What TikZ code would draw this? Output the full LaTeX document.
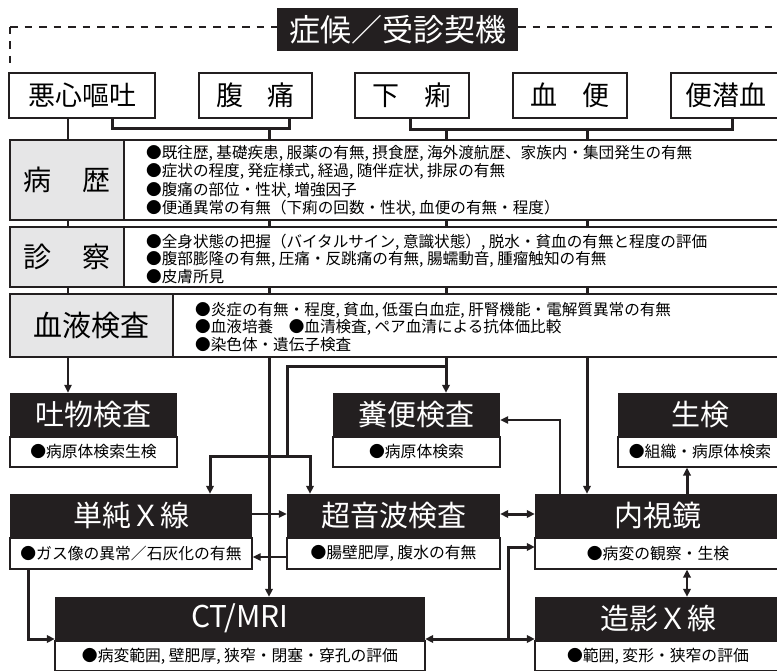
\documentclass[tikz,border=0pt]{standalone}
\usepackage{fontspec}
\setmainfont{Noto Sans CJK JP}
\usetikzlibrary{arrows.meta}
\pgfdeclarelayer{bg}
\pgfsetlayers{bg,main}
\definecolor{ink}{HTML}{231F20}
\definecolor{lgray}{HTML}{E6E6E7}
\newcommand\myfs[1]{\fontsize{#1}{#1}\selectfont}
\begin{document}
\begin{tikzpicture}[x=1pt,y=-1pt,
  sym/.style={draw=ink, line width=2.3pt, fill=white, minimum height=45pt, inner sep=0pt, font=\myfs{27}},
  lab/.style={draw=ink, line width=2.5pt, fill=lgray, inner sep=0pt, font=\myfs{28}},
  outerbox/.style={draw=ink, line width=2.7pt, fill=white, inner sep=0pt},
  txt/.style={anchor=west, inner sep=0pt, font=\myfs{15.6}},
  hdr/.style={fill=ink, text=white, minimum height=43pt, inner sep=0pt, font=\myfs{29}},
  subbox/.style={draw=ink, line width=1.4pt, fill=white, inner sep=0pt, font=\myfs{15.8}, anchor=north},
  thk/.style={draw=ink, line width=3pt},
  thn/.style={draw=ink, line width=1.2pt},
  arr/.style={-{Triangle[length=8pt,width=7.5pt]}},
  darr/.style={{Triangle[length=8pt,width=7.5pt]}-{Triangle[length=8pt,width=7.5pt]}}
]
\useasboundingbox (0,0) rectangle (777,671);
\clip (0,0) rectangle (777,671);

% title
\node[hdr, minimum width=241pt, minimum height=43pt, font=\myfs{31}] (title) at (397.5,29.5) {症候／受診契機};
\coordinate (dl) at (10,27);
\coordinate (dv) at (10,67);
\coordinate (dr) at (781,27);
\draw[ink, line width=2.4pt, dash pattern=on 7.5pt off 7pt] (dl) -- (dl -| title.west);
\draw[ink, line width=2.4pt, dash pattern=on 7.5pt off 7pt] (dl) -- (dv);
\draw[ink, line width=2.4pt, dash pattern=on 7.5pt off 7pt] (title.east |- dl) -- (dr);

% symptoms
\node[sym, minimum width=146pt] (s1) at (82,95.5) {悪心嘔吐};
\node[sym, minimum width=113pt] (s2) at (255.5,95.5) {腹\hspace{0.9em}痛};
\node[sym, minimum width=114pt] (s3) at (412,95.5) {下\hspace{0.9em}痢};
\node[sym, minimum width=114pt] (s4) at (570,95.5) {血\hspace{0.9em}便};
\node[sym, minimum width=110pt] (s5) at (726,95.5) {便潜血};

% history
\node[outerbox, minimum width=771pt, minimum height=80pt] (hist) at (395.5,180) {};
\node[lab, minimum width=114pt, minimum height=80pt] (histL) at (67,180) {病\hspace{1.1em}歴};
\node[txt] (h1) at (146,153) {●既往歴, 基礎疾患, 服薬の有無, 摂食歴, 海外渡航歴、家族内・集団発生の有無};
\node[txt] (h2) at (146,171.5) {●症状の程度, 発症様式, 経過, 随伴症状, 排尿の有無};
\node[txt] (h3) at (146,190) {●腹痛の部位・性状, 増強因子};
\node[txt] (h4) at (146,208.5) {●便通異常の有無（下痢の回数・性状, 血便の有無・程度）};

% exam
\node[outerbox, minimum width=771pt, minimum height=60pt] (exam) at (395.5,257) {};
\node[lab, minimum width=114pt, minimum height=60pt] (examL) at (67,257) {診\hspace{1.1em}察};
\node[txt] (e1t) at (146,242) {●全身状態の把握（バイタルサイン, 意識状態）, 脱水・貧血の有無と程度の評価};
\node[txt] (e2t) at (146,259) {●腹部膨隆の有無, 圧痛・反跳痛の有無, 腸蠕動音, 腫瘤触知の有無};
\node[txt] (e3t) at (146,276.5) {●皮膚所見};

% blood
\node[outerbox, minimum width=771pt, minimum height=63pt] (blood) at (395.5,325.5) {};
\node[lab, minimum width=163pt, minimum height=63pt, font=\myfs{29}] (bloodL) at (91.5,325.5) {血液検査};
\node[txt] (b1t) at (195,310) {●炎症の有無・程度, 貧血, 低蛋白血症, 肝腎機能・電解質異常の有無};
\node[txt] (b2t) at (195,327.5) {●血液培養\hspace{1em}●血清検査, ペア血清による抗体価比較};
\node[txt] (b3t) at (195,345) {●染色体・遺伝子検査};

% lower boxes
\node[hdr, minimum width=167pt] (tb) at (93.5,414.5) {吐物検査};
\node[subbox, minimum width=167pt, minimum height=30pt] (tbs) at (tb.south) {●病原体検索生検};
\node[hdr, minimum width=167pt] (fb) at (416.5,414.5) {糞便検査};
\node[subbox, minimum width=167pt, minimum height=30pt] (fbs) at (fb.south) {●病原体検索};
\node[hdr, minimum width=164pt] (bx) at (700,414.5) {生検};
\node[subbox, minimum width=164pt, minimum height=30pt] (bxs) at (bx.south) {●組織・病原体検索};

\node[hdr, minimum width=242pt] (xr) at (131,515.5) {単純Ｘ線};
\node[subbox, minimum width=242pt, minimum height=31pt] (xrs) at (xr.south) {●ガス像の異常／石灰化の有無};
\node[hdr, minimum width=213pt] (us) at (393.5,515.5) {超音波検査};
\node[subbox, minimum width=213pt, minimum height=31pt] (uss) at (us.south) {●腸壁肥厚, 腹水の有無};
\node[hdr, minimum width=246pt] (en) at (658,515.5) {内視鏡};
\node[subbox, minimum width=246pt, minimum height=31pt] (ens) at (en.south) {●病変の観察・生検};

\node[hdr, minimum width=370pt, font=\myfs{30}] (ct) at (240,618.5) {CT/MRI};
\node[subbox, minimum width=370pt, minimum height=30pt] (cts) at (ct.south) {●病変範囲, 壁肥厚, 狭窄・閉塞・穿孔の評価};
\node[hdr, minimum width=246pt] (zx) at (658,618.5) {造影Ｘ線};
\node[subbox, minimum width=246pt, minimum height=30pt] (zxs) at (zx.south) {●範囲, 変形・狭窄の評価};

\begin{pgfonlayer}{bg}
% bracket 1
\coordinate (b1l) at (112,129);
\coordinate (b1r) at (289,129);
\coordinate (b1m) at (269,129);
\draw[thk] (s1.south -| b1l) -- (b1l) -- (b1r) -- (s2.south -| b1r);
\draw[thk,arr] (b1m) -- (ct.north -| b1m);
% bracket 2
\coordinate (b2l) at (410,130);
\coordinate (b2r) at (732,130);
\coordinate (b2a) at (446,130);
\coordinate (b2b) at (587,130);
\draw[thk] (s3.south -| b2l) -- (b2l) -- (b2r) -- (s5.south -| b2r);
\draw[thk,arr] (b2a) -- (fb.north -| b2a);
\draw[thk,arr] (b2b) -- (en.north -| b2b);
% branch
\coordinate (br1) at (446,366);
\coordinate (br2) at (287,366);
\coordinate (br3) at (287,456);
\coordinate (brL) at (210,456);
\coordinate (brR) at (310,456);
\draw[thk] (br1) -- (br2) -- (br3);
\draw[thk,arr] (br3) -- (brL) -- (xr.north -| brL);
\draw[thk,arr] (br3) -- (brR) -- (us.north -| brR);
% thin line
\coordinate (t68) at (68,0);
\draw[thn,arr] (s1.south -| t68) -- (tb.north -| t68);
\end{pgfonlayer}

% xr <-> us
\coordinate (y514) at (0,514);
\coordinate (y557) at (0,557);
\draw[thn,arr] (xr.east |- y514) -- (us.west |- y514);
\draw[thn,arr] (uss.west |- y557) -- (xrs.east |- y557);
\draw[thk,darr] (us.east |- y514) -- (en.west |- y514);
% en -> fb
\coordinate (ef) at (560,420);
\draw[thn,arr] (en.north -| ef) -- (ef) -- (fb.east |- ef);
% en -> bx, en <-> zx
\coordinate (x687) at (687,0);
\draw[thk,arr] (en.north -| x687) -- (bxs.south -| x687);
\draw[ink, line width=2pt, darr] (ens.south -| x687) -- (zx.north -| x687);
% xr -> ct
\coordinate (c1) at (28,639);
\draw[thk,arr] (xrs.south -| c1) -- (c1) -- (ct.west |- c1);
% ct <-> zx <-> en
\coordinate (j1) at (508,639);
\coordinate (j2) at (508,547);
\draw[thk,arr] (j1) -- (ct.east |- j1);
\draw[thk,arr] (j1) -- (zx.west |- j1);
\draw[thk,arr] (j1) -- (j2) -- (en.west |- j2);
\end{tikzpicture}
\end{document}
